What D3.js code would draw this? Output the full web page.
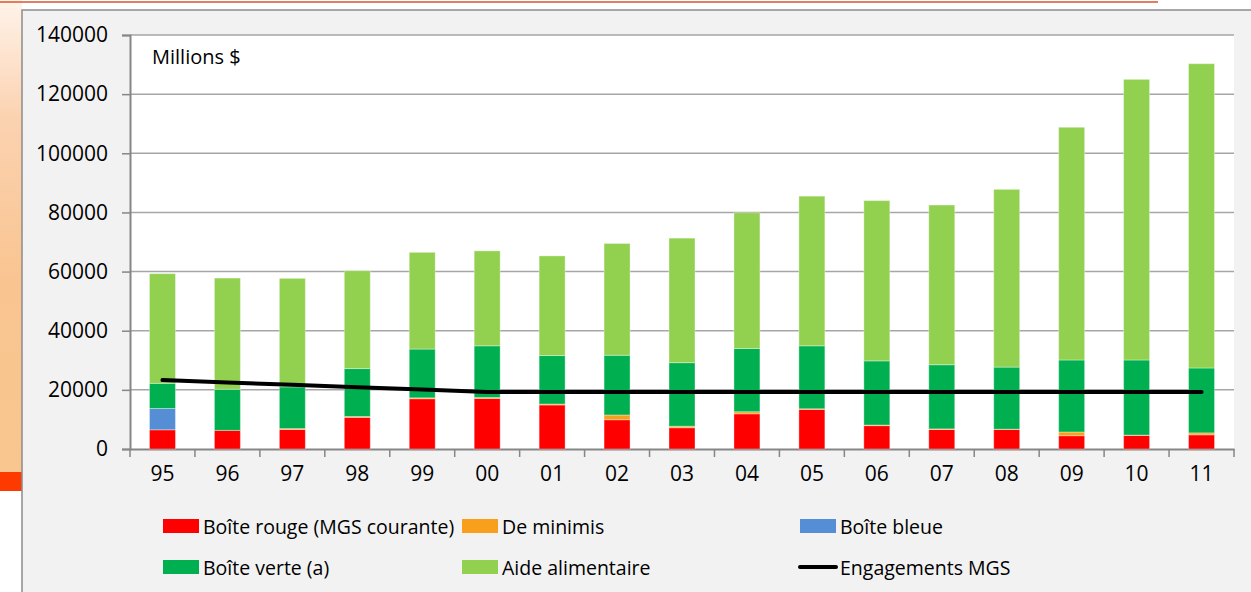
<!DOCTYPE html>
<html>
<head>
<meta charset="utf-8">
<script src="https://cdn.jsdelivr.net/npm/d3@7"></script>
<style>
    body { margin: 0; background: #ffffff; }
    text { font-family: "Open Sans", "Liberation Sans", sans-serif; fill: #000; }
</style>
</head>
<body>
<div id="chart"></div>
<script>
// Stacked bars (support boxes) with the MGS commitment line

const years = ["95", "96", "97", "98", "99", "00", "01", "02", "03", "04", "05", "06", "07", "08", "09", "10", "11"];

const boiteRouge  = [6500, 6300, 6600, 10700, 17000, 17100, 14900, 9900, 7200, 11900, 13400, 7900, 6600, 6600, 4500, 4600, 4800];
const deMinimis   = [0, 0, 300, 300, 300, 300, 300, 1600, 500, 700, 200, 200, 200, 100, 1250, 100, 650];
const boiteBleue  = [7200, 0, 0, 0, 0, 0, 0, 0, 0, 0, 0, 0, 0, 0, 0, 0, 0];
const boiteVerte  = [8500, 13900, 14100, 16200, 16500, 17500, 16400, 20200, 21500, 21400, 21300, 21700, 21700, 21000, 24350, 25400, 21950];
const aideAlim    = [37100, 37600, 36700, 33100, 32700, 32100, 33700, 37800, 42100, 45900, 50600, 54200, 54000, 60100, 78700, 94900, 102900];
const engagements = [23300, 22500, 21700, 20900, 20100, 19300, 19300, 19300, 19300, 19300, 19300, 19300, 19300, 19300, 19300, 19300, 19300];

const yTicks = [0, 20000, 40000, 60000, 80000, 100000, 120000, 140000];

const seriesNames = ["Boîte rouge (MGS courante)", "De minimis", "Boîte bleue", "Boîte verte (a)", "Aide alimentaire"];
const seriesColors = ["#ff0000", "#f8a01c", "#558ed5", "#00b050", "#92d050"];

let width = 1251,
    height = 592,
    plotLeft = 130,
    plotRight = 1234,
    plotTop = 35,
    plotBottom = 449;

let svg = d3.select("#chart").append("svg")
    .attr("width", width)
    .attr("height", height);

// Slide background
// ---------------------------------------------------------

let defs = svg.append("defs");
let grad = defs.append("linearGradient")
    .attr("id", "slideGrad")
    .attr("x1", 0).attr("y1", 0).attr("x2", 0).attr("y2", 1);
grad.append("stop").attr("offset", "0%").attr("stop-color", "#fff3ea");
grad.append("stop").attr("offset", "25%").attr("stop-color", "#fbd2b0");
grad.append("stop").attr("offset", "60%").attr("stop-color", "#f9c490");
grad.append("stop").attr("offset", "100%").attr("stop-color", "#f8c68e");

svg.append("rect")
    .attr("x", 0).attr("y", 0)
    .attr("width", 22).attr("height", 472)
    .attr("fill", "url(#slideGrad)");

svg.append("rect")
    .attr("x", 0).attr("y", 472)
    .attr("width", 22).attr("height", 19)
    .attr("fill", "#ff3a00");

svg.append("line")
    .attr("x1", 0).attr("x2", 1158)
    .attr("y1", 2).attr("y2", 2)
    .attr("stroke", "#d9542c")
    .attr("stroke-width", 1.5);

// Chart box
svg.append("rect")
    .attr("x", 22).attr("y", 10)
    .attr("width", 1240).attr("height", 600)
    .attr("fill", "#f2f2f2")
    .attr("stroke", "#8c8c8c")
    .attr("stroke-width", 1.5);

svg.append("rect")
    .attr("x", plotLeft).attr("y", plotTop)
    .attr("width", plotRight - plotLeft).attr("height", plotBottom - plotTop)
    .attr("fill", "#ffffff");

// Scales
// ---------------------------------------------------------

let x = d3.scaleBand()
    .domain(years)
    .range([plotLeft, plotRight])
    .paddingInner(0.6)
    .paddingOuter(0.3);

let y = d3.scaleLinear()
    .domain([0, 140000])
    .range([plotBottom, plotTop]);

// Gridlines and axes
// ---------------------------------------------------------

svg.append("g")
    .selectAll("line")
    .data(yTicks.slice(1))
    .enter()
    .append("line")
        .attr("x1", plotLeft)
        .attr("x2", plotRight)
        .attr("y1", d => y(d))
        .attr("y2", d => y(d))
        .attr("stroke", "#a6a6a6")
        .attr("stroke-width", 1.5);

let yAxis = svg.append("g")
    .attr("transform", `translate(${plotLeft},0)`)
    .call(d3.axisLeft(y).tickValues(yTicks).tickSize(8).tickPadding(14).tickFormat(d3.format("d")));

yAxis.select(".domain").attr("stroke", "#868686").attr("stroke-width", 2);
yAxis.selectAll(".tick line").attr("stroke", "#868686").attr("stroke-width", 1.5);
yAxis.selectAll(".tick text")
    .attr("font-size", "21px")
    .attr("font-family", "'Open Sans', sans-serif")
    .attr("fill", "#000");

let xAxis = svg.append("g")
    .attr("transform", `translate(0,${plotBottom})`)
    .call(d3.axisBottom(x).tickSize(0).tickPadding(17));

xAxis.select(".domain").attr("stroke", "#868686").attr("stroke-width", 2);
xAxis.selectAll(".tick text")
    .attr("font-size", "21px")
    .attr("font-family", "'Open Sans', sans-serif")
    .attr("fill", "#000");

// tick marks between categories
svg.append("g")
    .selectAll("line")
    .data(d3.range(years.length + 1))
    .enter()
    .append("line")
        .attr("x1", i => plotLeft + i * x.step())
        .attr("x2", i => plotLeft + i * x.step())
        .attr("y1", plotBottom)
        .attr("y2", plotBottom + 8)
        .attr("stroke", "#868686")
        .attr("stroke-width", 1.5);

// Stacked bars
// ---------------------------------------------------------

let table = years.map((yr, i) => ({
    year: yr,
    s0: boiteRouge[i],
    s1: deMinimis[i],
    s2: boiteBleue[i],
    s3: boiteVerte[i],
    s4: aideAlim[i]
}));

let stack = d3.stack().keys(["s0", "s1", "s2", "s3", "s4"]);
let stacked = stack(table);

svg.append("g")
    .selectAll("g")
    .data(stacked)
    .enter()
    .append("g")
        .attr("fill", (d, i) => seriesColors[i])
    .selectAll("rect")
    .data(d => d.filter(p => p[1] > p[0]))
    .enter()
    .append("rect")
        .attr("x", d => x(d.data.year))
        .attr("width", x.bandwidth())
        .attr("y", d => y(d[1]))
        .attr("height", d => y(d[0]) - y(d[1]))
        .attr("stroke", "rgba(255,255,255,0.35)")
        .attr("stroke-width", 1);

// Engagements line
// ---------------------------------------------------------

let lineGen = d3.line()
    .x((d, i) => x(years[i]) + x.bandwidth() / 2)
    .y(d => y(d));

svg.append("path")
    .datum(engagements)
    .attr("d", lineGen)
    .attr("fill", "none")
    .attr("stroke", "#000")
    .attr("stroke-width", 4)
    .attr("stroke-linecap", "round");

svg.append("text")
    .attr("x", 152)
    .attr("y", 64)
    .attr("font-size", "20px")
    .text("Millions $");

// Legend
// ---------------------------------------------------------

let legendItems = [
    { name: seriesNames[0], color: seriesColors[0], x: 163, y: 519, type: "rect" },
    { name: seriesNames[1], color: seriesColors[1], x: 462, y: 519, type: "rect" },
    { name: seriesNames[2], color: seriesColors[2], x: 800, y: 519, type: "rect" },
    { name: seriesNames[3], color: seriesColors[3], x: 163, y: 560, type: "rect" },
    { name: seriesNames[4], color: seriesColors[4], x: 462, y: 560, type: "rect" },
    { name: "Engagements MGS", color: "#000", x: 800, y: 560, type: "line" }
];

let legend = svg.append("g").attr("class", "legend");

let items = legend.selectAll(".legendItem")
    .data(legendItems)
    .enter()
    .append("g")
        .attr("class", "legendItem")
        .attr("transform", d => `translate(${d.x},${d.y})`);

items.filter(d => d.type === "rect")
    .append("rect")
        .attr("width", 36)
        .attr("height", 14)
        .attr("fill", d => d.color);

items.filter(d => d.type === "line")
    .append("line")
        .attr("x1", 0).attr("x2", 36)
        .attr("y1", 7).attr("y2", 7)
        .attr("stroke", "#000")
        .attr("stroke-width", 4)
        .attr("stroke-linecap", "round");

items.append("text")
    .attr("x", 40)
    .attr("y", 14.5)
    .attr("font-size", "19.5px")
    .text(d => d.name);
</script>
</body>
</html>
